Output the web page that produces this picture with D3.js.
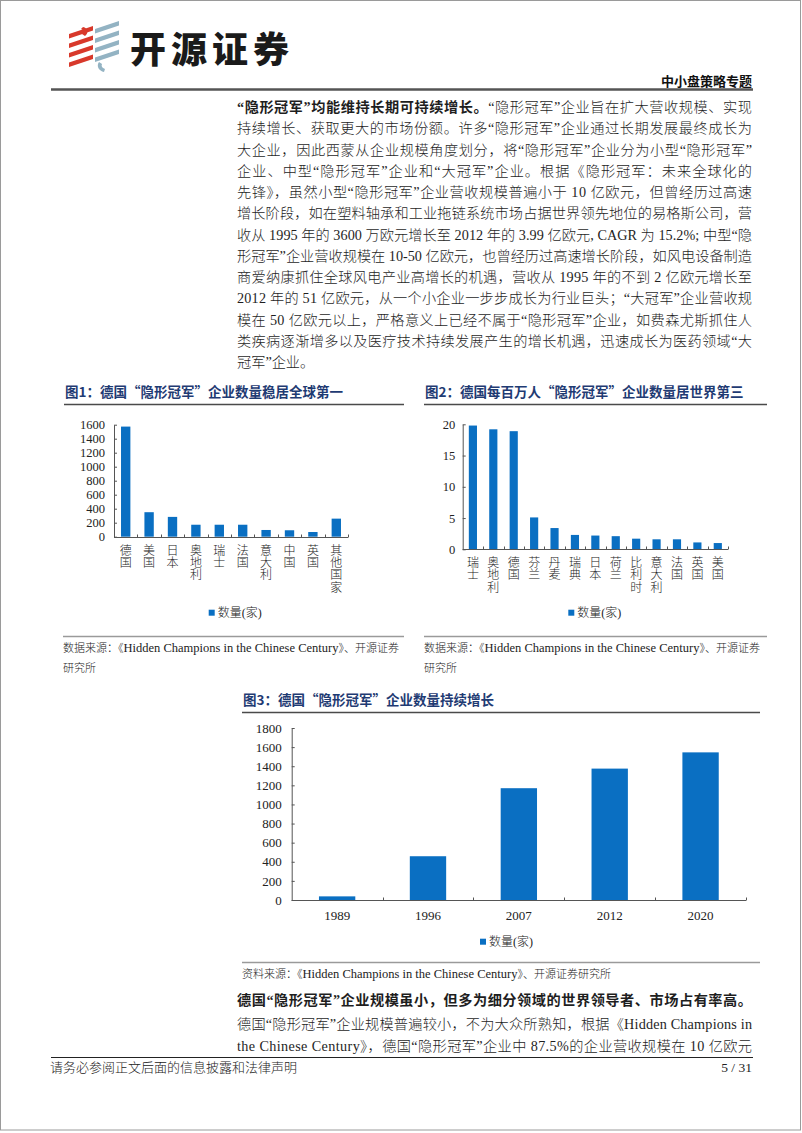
<!DOCTYPE html>
<html><head><meta charset="utf-8">
<script src="https://cdn.jsdelivr.net/npm/d3@7"></script>
<style>
html,body{margin:0;padding:0;background:#fff;}
svg{display:block;}
</style></head><body>
<svg id="page" width="802" height="1133"></svg>
<script>
// ---------------- DATA ----------------
const countries1 = ["德国","美国","日本","奥地利","瑞士","法国","意大利","中国","英国","其他国家"];
const counts1    = [1573, 350, 283, 171, 171, 171, 96, 92, 67, 258];
const ticks1     = [0,200,400,600,800,1000,1200,1400,1600];

const countries2 = ["瑞士","奥地利","德国","芬兰","丹麦","瑞典","日本","荷兰","比利时","意大利","法国","英国","美国"];
const perMillion2 = [19.8, 19.2, 18.9, 5.1, 3.4, 2.3, 2.2, 2.1, 1.7, 1.6, 1.6, 1.1, 1.0];
const ticks2     = [0,5,10,15,20];

const years3  = ["1989","1996","2007","2012","2020"];
const counts3 = [38, 458, 1170, 1375, 1545];
const ticks3  = [0,200,400,600,800,1000,1200,1400,1600,1800];

const seriesName = "数量(家)";
const chartTitles = [
  "图1：德国“隐形冠军”企业数量稳居全球第一",
  "图2：德国每百万人“隐形冠军”企业数量居世界第三",
  "图3：德国“隐形冠军”企业数量持续增长"
];

// ---------------- STYLE ----------------
const BLUE = "#0a6fc2";
const TITLE = "#1f3b73";
const AXIS = "#555";
const SERIF = "'Liberation Serif','Noto Sans CJK SC',serif";
const CJK = "'Noto Sans CJK SC','Liberation Serif',sans-serif";
const MIX = "'Liberation Serif','Noto Sans CJK SC',serif";

const svg = d3.select("#page");

// page border
svg.append("rect").attr("x",0.5).attr("y",0.5).attr("width",800).attr("height",1129.5)
  .attr("fill","none").attr("stroke","#9a9a9a").attr("stroke-width",1);

// ---------------- HEADER ----------------
const logo = svg.append("g");
[0,1,2,3].forEach(i=>{
  const yb = 67 - i*9.5;
  logo.append("path").attr("d",`M69,${yb} L93,${yb-8} L93,${yb-12.5} L69,${yb-4.5} Z`).attr("fill","#d8392b");
  const yb2 = 62 - i*9.5;
  logo.append("path").attr("d",`M95,${yb2} L119,${yb2-8} L119,${yb2-12.5} L95,${yb2-4.5} Z`).attr("fill","#93b3c3");
});
logo.append("path").attr("d","M83,27 C88,28 89,33 85,36 L82,34 C84,32 84,30 81,29 Z").attr("fill","#d8392b");
logo.append("path").attr("d","M99,62 C96,66 99,71 104,72 L105,69 C102,68 101,66 102,64 Z").attr("fill","#93b3c3");

svg.append("text").attr("x",130).attr("y",63).attr("font-family",CJK).attr("font-weight",900)
  .attr("font-size",36).attr("letter-spacing",5).attr("fill","#1a1a1a").text("开源证券");
svg.append("text").attr("x",752).attr("y",86).attr("text-anchor","end").attr("font-family",CJK)
  .attr("font-weight",700).attr("font-size",13).attr("fill","#111").text("中小盘策略专题");
svg.append("line").attr("x1",51).attr("x2",753).attr("y1",89.5).attr("y2",89.5)
  .attr("stroke","#555").attr("stroke-width",2.5);

// ---------------- BODY TEXT ----------------
const TX = 237, TW = 515;
function bodyLine(y, segs, justify, size){
  const t = svg.append("text").attr("x",TX).attr("y",y).attr("font-family",MIX)
    .attr("font-size",size||14.2).attr("fill","#1e1e1e");
  segs.forEach(s=>{
    t.append("tspan").attr("font-weight", s.b ? 700 : 300).text(s.t);
  });
  if(justify) t.attr("textLength",TW).attr("lengthAdjust","spacing");
  return t;
}
const para1 = [
  [{t:"“隐形冠军”均能维持长期可持续增长。",b:true},{t:"“隐形冠军”企业旨在扩大营收规模、实现"}],
  [{t:"持续增长、获取更大的市场份额。许多“隐形冠军”企业通过长期发展最终成长为"}],
  [{t:"大企业，因此西蒙从企业规模角度划分，将“隐形冠军”企业分为小型“隐形冠军”"}],
  [{t:"企业、中型“隐形冠军”企业和“大冠军”企业。根据《隐形冠军：未来全球化的"}],
  [{t:"先锋》，虽然小型“隐形冠军”企业营收规模普遍小于 10 亿欧元，但曾经历过高速"}],
  [{t:"增长阶段，如在塑料轴承和工业拖链系统市场占据世界领先地位的易格斯公司，营"}],
  [{t:"收从 1995 年的 3600 万欧元增长至 2012 年的 3.99 亿欧元, CAGR 为 15.2%; 中型“隐"}],
  [{t:"形冠军”企业营收规模在 10-50 亿欧元，也曾经历过高速增长阶段，如风电设备制造"}],
  [{t:"商爱纳康抓住全球风电产业高增长的机遇，营收从 1995 年的不到 2 亿欧元增长至"}],
  [{t:"2012 年的 51 亿欧元，从一个小企业一步步成长为行业巨头；“大冠军”企业营收规"}],
  [{t:"模在 50 亿欧元以上，严格意义上已经不属于“隐形冠军”企业，如费森尤斯抓住人"}],
  [{t:"类疾病逐渐增多以及医疗技术持续发展产生的增长机遇，迅速成长为医药领域“大"}],
  [{t:"冠军”企业。"}]
];
para1.forEach((segs,i)=> bodyLine(112 + i*21.25, segs, i < para1.length-1));

const para2 = [
  [{t:"德国“隐形冠军”企业规模虽小，但多为细分领域的世界领导者、市场占有率高。",b:true}],
  [{t:"德国“隐形冠军”企业规模普遍较小，不为大众所熟知，根据《Hidden Champions in"}],
  [{t:"the Chinese Century》，德国“隐形冠军”企业中 87.5%的企业营收规模在 10 亿欧元"}]
];
[1005, 1029, 1051].forEach((y,i)=> bodyLine(y, para2[i], true));

// ---------------- FOOTER ----------------
svg.append("line").attr("x1",51).attr("x2",753).attr("y1",1057.5).attr("y2",1057.5)
  .attr("stroke","#222").attr("stroke-width",1);
svg.append("text").attr("x",50).attr("y",1072).attr("font-family",CJK).attr("font-weight",300)
  .attr("font-size",13).attr("fill","#222").text("请务必参阅正文后面的信息披露和法律声明");
svg.append("text").attr("x",752).attr("y",1072).attr("text-anchor","end").attr("font-family",SERIF)
  .attr("font-size",13.5).attr("fill","#222").text("5 / 31");

// ---------------- CHART HELPERS ----------------
function chartTitle(txt, x, y, x2){
  svg.append("text").attr("x",x).attr("y",y).attr("font-family",CJK).attr("font-weight",700)
    .attr("font-size",13.5).attr("fill",TITLE).text(txt);
  svg.append("line").attr("x1",x-1).attr("x2",x2).attr("y1",y+7.5).attr("y2",y+7.5)
    .attr("stroke","#4a4a4a").attr("stroke-width",1.6);
}
function source(lines, x, y, x2){
  svg.append("line").attr("x1",x).attr("x2",x2).attr("y1",y).attr("y2",y)
    .attr("stroke","#9a9a9a").attr("stroke-width",1.6);
  lines.forEach((segs,i)=>{
    const t = svg.append("text").attr("x",x).attr("y",y+15+i*20).attr("fill","#222");
    segs.forEach(s=>{
      t.append("tspan").attr("font-family", s.latin ? SERIF : CJK)
        .attr("font-size", s.latin ? 12.5 : 11).attr("font-weight", s.latin ? 400 : 300).text(s.t);
    });
  });
}
function legend(cx, cy){
  const g = svg.append("g");
  g.append("rect").attr("x",cx).attr("y",cy-3).attr("width",6).attr("height",6).attr("fill",BLUE);
  g.append("text").attr("x",cx+9).attr("y",cy+4).attr("font-family",MIX).attr("font-size",12)
    .attr("font-weight",300).attr("fill","#222").text(seriesName);
}
function barChart(o){
  const x = d3.scaleBand().domain(o.cats).range([o.left,o.right]).paddingInner(0.6).paddingOuter(0.3);
  const y = d3.scaleLinear().domain([0,o.max]).range([o.bottom,o.top]);
  const g = svg.append("g");
  const data = o.cats.map((c,i)=>({c, v:o.vals[i]}));
  g.selectAll("rect.bar").data(data).join("rect").attr("class","bar")
    .attr("x",d=>x(d.c)).attr("width",x.bandwidth())
    .attr("y",d=>y(d.v)).attr("height",d=>y(0)-y(d.v)).attr("fill",BLUE);
  // y axis
  const yg = g.append("g").attr("transform",`translate(${o.left},0)`)
    .call(d3.axisLeft(y).tickValues(o.ticks).tickFormat(d3.format("d"))
      .tickSize(-3).tickSizeOuter(0).tickPadding(o.pad));
  yg.select(".domain").attr("stroke",AXIS);
  yg.selectAll(".tick line").attr("stroke",AXIS);
  yg.selectAll(".tick text").attr("font-family",SERIF).attr("font-size",o.fs).attr("fill","#222");
  // x axis line + boundary ticks
  const y0 = Math.round(y(0))+0.5;
  g.append("line").attr("x1",o.left).attr("x2",o.right).attr("y1",y0).attr("y2",y0).attr("stroke",AXIS);
  const gap = (x.step()-x.bandwidth())/2;
  const bounds = o.cats.map(c=>x(c)-gap).concat([x(o.cats[o.cats.length-1])+x.bandwidth()+gap]);
  g.selectAll("line.xt").data(bounds.slice(1)).join("line").attr("class","xt")
    .attr("x1",d=>Math.round(d)+0.5).attr("x2",d=>Math.round(d)+0.5)
    .attr("y1",y0).attr("y2",y0-3).attr("stroke",AXIS);
  // x labels
  if(o.vertical){
    g.selectAll("text.xl").data(data).join("text").attr("class","xl")
      .attr("x",d=>x(d.c)+x.bandwidth()/2).attr("y",o.labelTop)
      .attr("font-family",CJK).attr("font-weight",300).attr("font-size",12)
      .attr("letter-spacing",o.labelStep-12)
      .style("writing-mode","vertical-rl").style("text-orientation","upright")
      .attr("fill","#222").text(d=>d.c);
  } else {
    g.selectAll("text.xl").data(data).join("text").attr("class","xl")
      .attr("x",d=>x(d.c)+x.bandwidth()/2).attr("y",o.labelY).attr("text-anchor","middle")
      .attr("font-family",SERIF).attr("font-size",13).attr("fill","#222").text(d=>d.c);
  }
}

// ---------------- CHART 1 ----------------
chartTitle(chartTitles[0], 65, 397, 404);
barChart({cats:countries1, vals:counts1, ticks:ticks1, max:1600,
  left:114, right:348, bottom:536.7, top:424.7, pad:9, fs:12.5,
  vertical:true, labelTop:544, labelStep:12.4});
legend(208.7, 612.7);
const srcA = [{t:"数据来源：《"},{t:"Hidden Champions in the Chinese Century",latin:true},{t:"》、开源证券"}];
source([srcA, [{t:"研究所"}]], 63, 636.5, 404);

// ---------------- CHART 2 ----------------
chartTitle(chartTitles[1], 425, 397, 767);
barChart({cats:countries2, vals:perMillion2, ticks:ticks2, max:20,
  left:462.7, right:728, bottom:549.3, top:424.3, pad:7.5, fs:12.5,
  vertical:true, labelTop:556.3, labelStep:12.5});
legend(568.3, 612.7);
source([srcA, [{t:"研究所"}]], 424, 636.5, 767);

// ---------------- CHART 3 ----------------
chartTitle(chartTitles[2], 243, 705, 760);
barChart({cats:years3, vals:counts3, ticks:ticks3, max:1800,
  left:291.7, right:746, bottom:900, top:728, pad:10, fs:13,
  vertical:false, labelY:919.5});
legend(480, 941.7);
source([[{t:"资料来源：《"},{t:"Hidden Champions in the Chinese Century",latin:true},{t:"》、开源证券研究所"}]], 242, 962.5, 760);
</script>
</body></html>
